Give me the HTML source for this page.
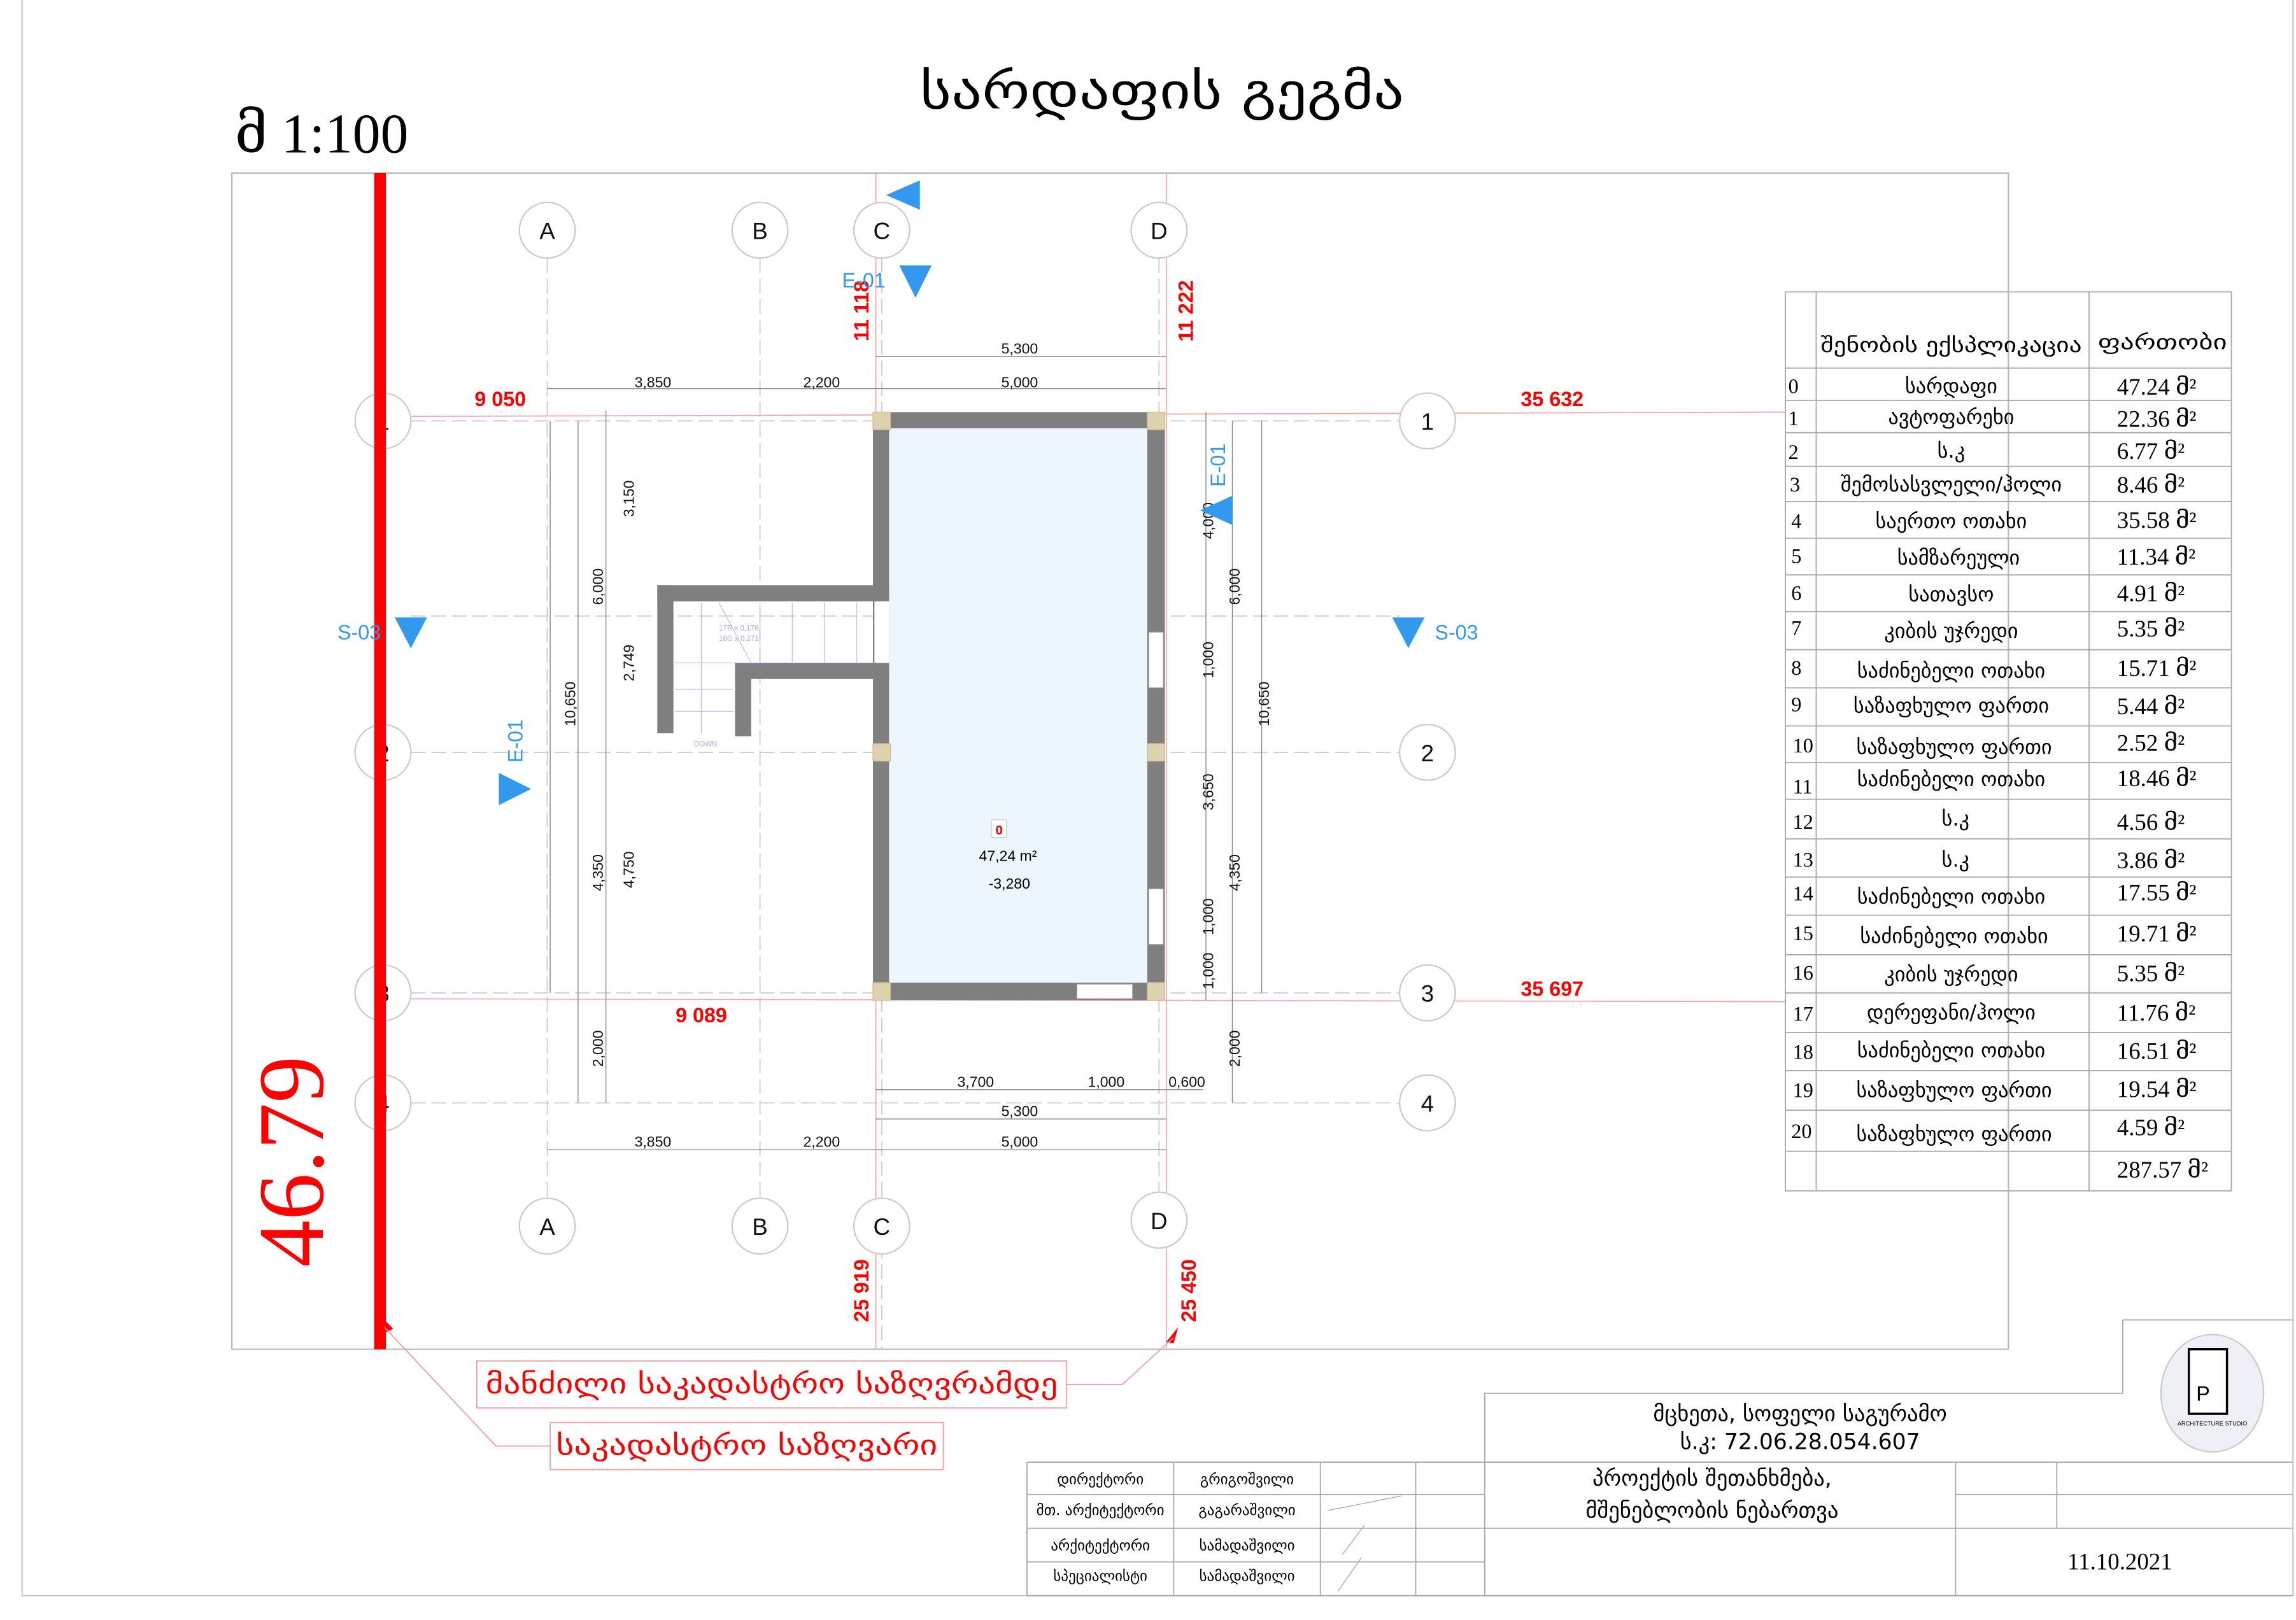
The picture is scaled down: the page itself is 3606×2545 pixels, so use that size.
<!DOCTYPE html>
<html><head><meta charset="utf-8"><style>
html,body{margin:0;padding:0;background:#fff}
svg{display:block}
text{font-family:"Liberation Sans","DejaVu Sans",sans-serif}
.g,.g text{font-family:"DejaVu Sans","Liberation Sans",sans-serif}
.s,.s text{font-family:"Liberation Serif","DejaVu Serif",serif}
.d{font-size:10px;fill:#111}
.r{fill:#f00;font-weight:bold;font-size:14px}
.b{fill:#3399ee;font-size:14px}
</style></head><body>
<svg width="3606" height="2545" viewBox="0 0 1565 1104.6" xmlns="http://www.w3.org/2000/svg">
<rect x="15" y="-5" width="1548" height="1093" fill="none" stroke="#ccc" stroke-width="1"/>
<rect x="158" y="118" width="1211" height="802" fill="none" stroke="#bbb" stroke-width="1"/>
<text x="792" y="74" class="g" font-size="34" text-anchor="middle" textLength="330" lengthAdjust="spacingAndGlyphs">სარდაფის გეგმა</text>
<text x="160" y="104" class="s" font-size="38">მ  1:100</text>

<g stroke="#ccc" stroke-width="0.8" stroke-dasharray="10,4">
<line x1="373" y1="176" x2="373" y2="817"/><line x1="518" y1="176" x2="518" y2="817"/>
<line x1="601" y1="176" x2="601" y2="920"/><line x1="790" y1="176" x2="790" y2="813"/>
<line x1="280" y1="287" x2="954" y2="287"/><line x1="280" y1="513" x2="954" y2="513"/>
<line x1="280" y1="677" x2="954" y2="677"/><line x1="280" y1="752" x2="954" y2="752"/>
<line x1="280" y1="420" x2="954" y2="420"/>
</g>
<g stroke="#f4a0a0" stroke-width="0.7">
<line x1="259" y1="284" x2="1217" y2="281"/><line x1="259" y1="681" x2="1217" y2="683"/>
<line x1="597" y1="118" x2="597" y2="920"/><line x1="795" y1="118" x2="795" y2="920"/>
</g>
<g fill="#fff" stroke="#ccc" stroke-width="1">
<circle cx="373" cy="157" r="19"/><circle cx="518" cy="157" r="19"/><circle cx="601" cy="157" r="19"/><circle cx="790" cy="157" r="19"/>
<circle cx="373" cy="836" r="19"/><circle cx="518" cy="836" r="19"/><circle cx="601" cy="836" r="19"/><circle cx="790" cy="832" r="19"/>
<circle cx="261" cy="287" r="19"/><circle cx="261" cy="513" r="19"/><circle cx="261" cy="677" r="19"/><circle cx="261" cy="752" r="19"/>
<circle cx="973" cy="287" r="19"/><circle cx="973" cy="513" r="19"/><circle cx="973" cy="677" r="19"/><circle cx="973" cy="752" r="19"/>
</g>
<g font-size="16" text-anchor="middle" fill="#111">
<text x="373" y="163">A</text><text x="518" y="163">B</text><text x="601" y="163">C</text><text x="790" y="163">D</text>
<text x="373" y="842">A</text><text x="518" y="842">B</text><text x="601" y="842">C</text><text x="790" y="838">D</text>
<text x="261" y="293">1</text><text x="261" y="519">2</text><text x="261" y="683">3</text><text x="261" y="758">4</text>
<text x="973" y="293">1</text><text x="973" y="519">2</text><text x="973" y="683">3</text><text x="973" y="758">4</text>
</g>

<g stroke="#888" stroke-width="0.6" fill="none">
<line x1="373" y1="265" x2="795" y2="265"/><line x1="597" y1="243" x2="795" y2="243"/>
<line x1="606" y1="345" x2="782" y2="345"/>
<line x1="597" y1="743" x2="820" y2="743"/><line x1="597" y1="763" x2="795" y2="763"/><line x1="373" y1="784" x2="795" y2="784"/>
<line x1="394" y1="287" x2="394" y2="752"/><line x1="413" y1="280" x2="413" y2="752"/><line x1="375" y1="287" x2="375" y2="677"/>
<line x1="760" y1="292" x2="760" y2="670"/><line x1="822" y1="281" x2="822" y2="682"/>
<line x1="840" y1="287" x2="840" y2="752"/><line x1="860" y1="287" x2="860" y2="677"/>
</g>
<g class="d" text-anchor="middle">
<text x="445" y="264">3,850</text><text x="560" y="264">2,200</text><text x="695" y="264">5,000</text>
<text x="695" y="241">5,300</text><text x="695" y="343">4,700</text>
<text x="665" y="741">3,700</text><text x="754" y="741">1,000</text><text x="809" y="741">0,600</text>
<text x="695" y="761">5,300</text>
<text x="445" y="782">3,850</text><text x="560" y="782">2,200</text><text x="695" y="782">5,000</text>
</g>
<g class="d" text-anchor="middle">
<text transform="translate(411,400) rotate(-90)">6,000</text><text transform="translate(411,595) rotate(-90)">4,350</text><text transform="translate(411,715) rotate(-90)">2,000</text>
<text transform="translate(432,340) rotate(-90)">3,150</text><text transform="translate(432,452) rotate(-90)">2,749</text><text transform="translate(432,593) rotate(-90)">4,750</text>
<text transform="translate(392,480) rotate(-90)">10,650</text><text transform="translate(765,480) rotate(-90)">10,050</text>
<text transform="translate(827,355) rotate(-90)">4,000</text><text transform="translate(827,450) rotate(-90)">1,000</text><text transform="translate(827,540) rotate(-90)">3,650</text><text transform="translate(827,625) rotate(-90)">1,000</text><text transform="translate(827,662) rotate(-90)">1,000</text>
<text transform="translate(845,400) rotate(-90)">6,000</text><text transform="translate(845,595) rotate(-90)">4,350</text><text transform="translate(845,715) rotate(-90)">2,000</text>
<text transform="translate(865,480) rotate(-90)">10,650</text>
</g>

<rect x="601" y="286" width="187" height="390" fill="#eef6fd"/>
<g fill="#7f7f7f">
<rect x="595" y="281" width="199" height="11"/><rect x="595" y="670" width="199" height="12"/>
<rect x="595" y="281" width="11" height="401"/><rect x="782" y="281" width="12" height="401"/>
<rect x="448" y="399" width="158" height="11"/><rect x="448" y="399" width="11" height="101"/>
<rect x="501" y="452" width="105" height="11"/><rect x="501" y="452" width="11" height="50"/>
</g>
<rect x="596" y="410" width="10" height="42" fill="#fff"/>
<g fill="#fff" stroke="#999" stroke-width="0.5">
<rect x="783" y="431" width="10" height="38"/><rect x="783" y="606" width="10" height="38"/><rect x="734" y="671" width="38" height="10"/>
</g>
<g fill="#ddd2b0" stroke="#c9b98f" stroke-width="0.5">
<rect x="595" y="281" width="12" height="12"/><rect x="782" y="281" width="12" height="12"/>
<rect x="595" y="507" width="12" height="12"/><rect x="782" y="507" width="12" height="12"/>
<rect x="595" y="670" width="12" height="12"/><rect x="782" y="670" width="12" height="12"/>
</g>
<g stroke="#b8b8f4" stroke-width="0.5" fill="none">
<line x1="460" y1="452" x2="596" y2="452"/>
<line x1="518" y1="411" x2="518" y2="452"/><line x1="540" y1="411" x2="540" y2="452"/><line x1="562" y1="411" x2="562" y2="452"/><line x1="584" y1="411" x2="584" y2="452"/>
<line x1="460" y1="470" x2="500" y2="470"/><line x1="460" y1="485" x2="500" y2="485"/><line x1="478" y1="411" x2="478" y2="500"/>
<line x1="490" y1="411" x2="512" y2="452"/>
</g>
<g fill="#a9a9f0" font-size="5">
<text x="490" y="430">17R x 0,176</text><text x="490" y="437">16G x 0,271</text><text x="473" y="509">DOWN</text>
</g>
<rect x="676" y="559" width="10" height="12" fill="#fff" stroke="#ccc" stroke-width="0.5"/>
<text x="681" y="569" text-anchor="middle" fill="#f00" font-size="9" font-weight="bold">0</text>
<text x="687" y="587" text-anchor="middle" font-size="10">47,24 m²</text>
<text x="688" y="606" text-anchor="middle" font-size="10">-3,280</text>

<rect x="255" y="118" width="8" height="802" fill="#f00"/>
<text transform="translate(220,792) rotate(-90)" text-anchor="middle" class="s" fill="#f00" font-size="64">46.79</text>
<g class="r" text-anchor="middle">
<text x="341" y="277">9 050</text><text x="1058" y="277">35 632</text><text x="478" y="697">9 089</text><text x="1058" y="679">35 697</text>
<text transform="translate(592,212) rotate(-90)">11 118</text><text transform="translate(813,212) rotate(-90)">11 222</text>
<text transform="translate(592,880) rotate(-90)">25 919</text><text transform="translate(815,880) rotate(-90)">25 450</text>
</g>
<path d="M259 897 L268 906 L262 909Z M803 905 L795 915 L800 916Z" fill="#f00"/>
<g stroke="#f5a0a0" stroke-width="0.8" fill="none">
<polyline points="262,905 338,986 375,986"/><polyline points="800,912 765,944 727,944"/>
<rect x="325" y="928" width="402" height="32"/><rect x="375" y="970" width="268" height="32"/>
</g>
<text x="526" y="950" text-anchor="middle" class="g" fill="#f00" font-size="19" textLength="390" lengthAdjust="spacingAndGlyphs">მანძილი საკადასტრო საზღვრამდე</text>
<text x="509" y="992" text-anchor="middle" class="g" fill="#f00" font-size="19" textLength="260" lengthAdjust="spacingAndGlyphs">საკადასტრო საზღვარი</text>

<g fill="#3399ee">
<path d="M604 133 L627 123 L627 143Z"/><path d="M613 181 L635 181 L624 203Z"/>
<path d="M818 348 L840 338 L840 358Z"/><path d="M269 421 L291 421 L280 442Z"/>
<path d="M949 421 L971 421 L960 442Z"/><path d="M340 527 L362 538 L340 549Z"/>
</g>
<g class="b">
<text x="574" y="196">E-01</text><text x="230" y="436">S-03</text><text x="978" y="436">S-03</text>
<text transform="translate(835,332) rotate(-90)">E-01</text><text transform="translate(356,520) rotate(-90)">E-01</text>
</g>

<g stroke="#aaa" stroke-width="0.8" fill="none">
<rect x="1217" y="199" width="304" height="613"/>
<line x1="1238" y1="199" x2="1238" y2="812"/><line x1="1424" y1="199" x2="1424" y2="812"/>
<path d="M1217 251H1521M1217 273H1521M1217 295H1521M1217 318H1521M1217 342H1521M1217 367H1521M1217 392H1521M1217 417H1521M1217 443H1521M1217 469H1521M1217 495H1521M1217 520H1521M1217 545H1521M1217 572H1521M1217 598H1521M1217 624H1521M1217 651H1521M1217 677H1521M1217 704H1521M1217 730H1521M1217 757H1521M1217 785H1521"/>
</g>
<g class="g" font-size="14" fill="#000">
<text x="1330" y="240" text-anchor="middle" textLength="178" lengthAdjust="spacingAndGlyphs">შენობის ექსპლიკაცია</text><text x="1474" y="238" text-anchor="middle" textLength="88" lengthAdjust="spacingAndGlyphs">ფართობი</text>
</g>
<g font-size="14" fill="#000">
<g class="s">
<text x="1219" y="268">0</text><text x="1219" y="290">1</text><text x="1219" y="313">2</text><text x="1220" y="335">3</text><text x="1221" y="360">4</text><text x="1221" y="384">5</text><text x="1221" y="409">6</text><text x="1221" y="433">7</text><text x="1221" y="460">8</text><text x="1221" y="485">9</text><text x="1222" y="513">10</text><text x="1222" y="541">11</text><text x="1222" y="565">12</text><text x="1222" y="591">13</text><text x="1222" y="614">14</text><text x="1222" y="641">15</text><text x="1222" y="668">16</text><text x="1222" y="696">17</text><text x="1222" y="722">18</text><text x="1222" y="748">19</text><text x="1221" y="776">20</text>
</g>
<g class="g" font-size="14" text-anchor="middle">
<text x="1330" y="268">სარდაფი</text><text x="1330" y="289">ავტოფარეხი</text><text x="1330" y="312">ს.კ</text><text x="1330" y="335">შემოსასვლელი/ჰოლი</text><text x="1330" y="360">საერთო ოთახი</text><text x="1335" y="385">სამზარეული</text><text x="1330" y="410">სათავსო</text><text x="1330" y="435">კიბის უჯრედი</text><text x="1330" y="462">საძინებელი ოთახი</text><text x="1330" y="486">საზაფხულო ფართი</text><text x="1332" y="514">საზაფხულო ფართი</text><text x="1330" y="536">საძინებელი ოთახი</text><text x="1333" y="563">ს.კ</text><text x="1333" y="591">ს.კ</text><text x="1330" y="616">საძინებელი ოთახი</text><text x="1332" y="643">საძინებელი ოთახი</text><text x="1330" y="669">კიბის უჯრედი</text><text x="1330" y="695">დერეფანი/ჰოლი</text><text x="1330" y="721">საძინებელი ოთახი</text><text x="1332" y="748">საზაფხულო ფართი</text><text x="1332" y="778">საზაფხულო ფართი</text>
</g>
<g class="s" font-size="16">
<text x="1443" y="269">47.24  მ²</text><text x="1443" y="291">22.36  მ²</text><text x="1443" y="313">6.77  მ²</text><text x="1443" y="336">8.46  მ²</text><text x="1443" y="360">35.58  მ²</text><text x="1443" y="385">11.34  მ²</text><text x="1443" y="410">4.91  მ²</text><text x="1443" y="434">5.35  მ²</text><text x="1443" y="461">15.71  მ²</text><text x="1443" y="487">5.44  მ²</text><text x="1443" y="512">2.52  მ²</text><text x="1443" y="536">18.46  მ²</text><text x="1443" y="566">4.56  მ²</text><text x="1443" y="592">3.86  მ²</text><text x="1443" y="614">17.55  მ²</text><text x="1443" y="642">19.71  მ²</text><text x="1443" y="669">5.35  მ²</text><text x="1443" y="696">11.76  მ²</text><text x="1443" y="722">16.51  მ²</text><text x="1443" y="748">19.54  მ²</text><text x="1443" y="774">4.59  მ²</text><text x="1443" y="803">287.57  მ²</text>
</g></g>

<g stroke="#aaa" stroke-width="0.8" fill="none">
<polyline points="1012,1088 1012,950 1447,950"/><line x1="1447" y1="900" x2="1563" y2="900"/><line x1="1447" y1="900" x2="1447" y2="950"/>
<line x1="700" y1="997" x2="1563" y2="997"/><line x1="700" y1="997" x2="700" y2="1088"/>
<line x1="700" y1="1088" x2="1563" y2="1088"/>
<line x1="700" y1="1019" x2="1012" y2="1019"/><line x1="700" y1="1042" x2="1563" y2="1042"/><line x1="700" y1="1065" x2="1012" y2="1065"/>
<line x1="1333" y1="1019" x2="1563" y2="1019"/>
<line x1="800" y1="997" x2="800" y2="1088"/><line x1="900" y1="997" x2="900" y2="1088"/><line x1="965" y1="997" x2="965" y2="1088"/>
<line x1="1333" y1="997" x2="1333" y2="1088"/><line x1="1402" y1="997" x2="1402" y2="1042"/>
</g>
<g class="g" fill="#000">
<text x="1227" y="969" text-anchor="middle" font-size="15">მცხეთა, სოფელი საგურამო</text>
<text x="1227" y="988" text-anchor="middle" font-size="15">ს.კ: 72.06.28.054.607</text>
<text x="1167" y="1013" text-anchor="middle" font-size="15">პროექტის შეთანხმება,</text>
<text x="1167" y="1035" text-anchor="middle" font-size="15">მშენებლობის ნებართვა</text>
<g font-size="10" text-anchor="middle">
<text x="750" y="1012">დირექტორი</text><text x="850" y="1012">გრიგოშვილი</text>
<text x="750" y="1033">მთ. არქიტექტორი</text><text x="850" y="1033">გაგარაშვილი</text>
<text x="750" y="1057">არქიტექტორი</text><text x="850" y="1057">სამადაშვილი</text>
<text x="750" y="1078">სპეციალისტი</text><text x="850" y="1078">სამადაშვილი</text>
</g></g>
<text x="1445" y="1070" text-anchor="middle" class="s" font-size="16">11.10.2021</text>
<g stroke="#aab" stroke-width="0.6" fill="none"><path d="M905 1030 L955 1020 M915 1060 L930 1040 M912 1085 L928 1062"/></g>
<ellipse cx="1508" cy="950" rx="35" ry="40" fill="#eef0f5" stroke="#ccc"/>
<rect x="1492" y="920" width="26" height="44" fill="#fff" stroke="#000" stroke-width="1.5"/>
<text x="1497" y="955" font-size="14">P</text>
<text x="1508" y="972" text-anchor="middle" font-size="4">ARCHITECTURE STUDIO</text>
</svg>
</body></html>
